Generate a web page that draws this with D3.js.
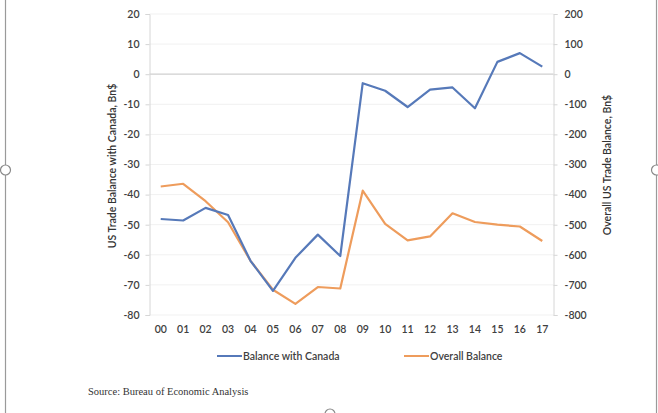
<!DOCTYPE html>
<html>
<head>
<meta charset="utf-8">
<script src="https://cdn.jsdelivr.net/npm/d3@7"></script>
<style>
  body { margin: 0; background: #fff; }
  svg text { font-family: Lato, "Noto Sans", sans-serif; }
</style>
</head>
<body>
<svg id="chart" width="658" height="413"></svg>
<script>
// data
var years = ["00","01","02","03","04","05","06","07","08","09","10","11","12","13","14","15","16","17"];
var canadaBalance = [-48.1,-48.6,-44.4,-46.8,-62,-72,-61,-53.3,-60.4,-3,-5.5,-10.9,-5.1,-4.4,-11.3,4.1,7,2.5];
var overallBalance = [-373,-364,-422,-492,-620,-716,-763,-707,-712,-387,-497,-552,-539,-462,-491,-500,-506,-554];
var leftTicks = [20,10,0,-10,-20,-30,-40,-50,-60,-70,-80];
var rightTicks = [200,100,0,-100,-200,-300,-400,-500,-600,-700,-800];
var seriesNames = ["Balance with Canada","Overall Balance"];

var blue = "#5679b9", orange = "#ee9c5c";

var svg = d3.select("#chart");

// frame of the picture (selected image look)
svg.append("line").attr("x1",5.5).attr("x2",5.5).attr("y1",0).attr("y2",413).attr("stroke","#9a9a9a").attr("stroke-width",1.2);
svg.append("line").attr("x1",656.5).attr("x2",656.5).attr("y1",0).attr("y2",413).attr("stroke","#9a9a9a").attr("stroke-width",1.2);
[[5.5,170],[656.5,170],[330,414]].forEach(function(p){
    svg.append("circle").attr("cx",p[0]).attr("cy",p[1]).attr("r",5)
        .attr("fill","#fff").attr("stroke","#8a8a8a").attr("stroke-width",1.2);
});

var plotL = 149.5, plotR = 553.5, plotT = 14, plotB = 315;

var xScale = d3.scaleBand().domain(years).range([plotL,plotR]);
var yLeft = d3.scaleLinear().domain([-80,20]).range([plotB,plotT]);
var yRight = d3.scaleLinear().domain([-800,200]).range([plotB,plotT]);

// 网格线
svg.append("g").selectAll("line").data(leftTicks).enter().append("line")
    .attr("x1",plotL).attr("x2",plotR)
    .attr("y1",d=>yLeft(d)).attr("y2",d=>yLeft(d))
    .attr("stroke",d=> d===0 ? "#cfcfcf" : "#f1f1f1")
    .attr("stroke-width",d=> d===0 ? 1.3 : 1);

// y axes (plain hyphen minus, like the original)
var axisL = d3.axisLeft(yLeft).tickValues(leftTicks).tickFormat(d=>String(d)).tickSize(4).tickPadding(6);
var axisR = d3.axisRight(yRight).tickValues(rightTicks).tickFormat(d=>String(d)).tickSize(4).tickPadding(7);
var gL = svg.append("g").attr("transform",`translate(${plotL},0)`).call(axisL);
var gR = svg.append("g").attr("transform",`translate(${plotR},0)`).call(axisR);
[gL,gR].forEach(function(g){
    g.select(".domain").attr("stroke","#d6d6d6");
    g.selectAll(".tick line").attr("stroke","#d6d6d6");
    g.selectAll("text").attr("fill","#404040").style("font-size","10.5px").style("font-weight","600");
});

// x axis labels at bottom
var axisX = d3.axisBottom(xScale).tickSize(0).tickPadding(0);
var gX = svg.append("g").attr("transform",`translate(0,${plotB+11})`).call(axisX);
gX.select(".domain").remove();
gX.selectAll("text").attr("fill","#404040").style("font-size","10.5px").style("font-weight","600");

// axis titles
svg.append("text").attr("transform","translate(116,166) rotate(-90)")
    .attr("text-anchor","middle").style("font-size","10.5px").style("font-weight","600")
    .attr("fill","#333").text("US Trade Balance with Canada, Bn$");
svg.append("text").attr("transform","translate(611,165) rotate(-90)")
    .attr("text-anchor","middle").style("font-size","10.5px").style("font-weight","600")
    .attr("fill","#333").text("Overall US Trade Balance, Bn$");

// lines
var lineL = d3.line().x((d,i)=>xScale(years[i])+xScale.bandwidth()/2).y(d=>yLeft(d));
var lineR = d3.line().x((d,i)=>xScale(years[i])+xScale.bandwidth()/2).y(d=>yRight(d));

svg.append("path").datum(overallBalance).attr("d",lineR)
    .attr("fill","none").attr("stroke",orange).attr("stroke-width",2.2).attr("stroke-linejoin","round");
svg.append("path").datum(canadaBalance).attr("d",lineL)
    .attr("fill","none").attr("stroke",blue).attr("stroke-width",2.2).attr("stroke-linejoin","round");

// legend
var legendX = [217,404], colors = [blue,orange];
seriesNames.forEach(function(name,i){
    svg.append("line").attr("x1",legendX[i]).attr("x2",legendX[i]+25)
        .attr("y1",356).attr("y2",356).attr("stroke",colors[i]).attr("stroke-width",2);
    svg.append("text").attr("x",legendX[i]+26).attr("y",356).attr("dy","0.35em")
        .style("font-size","10.5px").style("font-weight","600").attr("fill","#404040").text(name);
});

// source
svg.append("text").attr("x",88).attr("y",395)
    .style("font-family","'Liberation Serif', serif").style("font-size","10.5px")
    .attr("fill","#333").text("Source:  Bureau of Economic Analysis");
</script>
</body>
</html>
